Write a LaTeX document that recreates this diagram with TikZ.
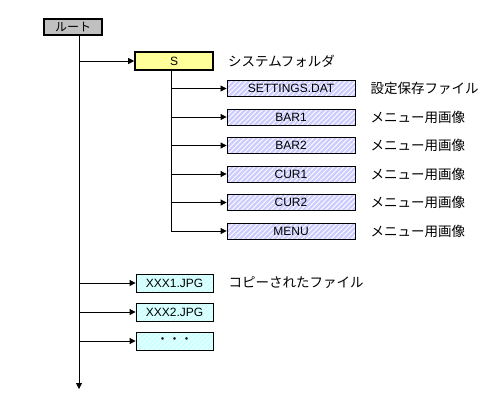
\documentclass[tikz,border=0pt]{standalone}
\usepackage{fontspec}
\setmainfont{Liberation Sans}
\newfontfamily\jpfont{Noto Sans CJK JP}
\usetikzlibrary{arrows.meta,patterns.meta,positioning}
\definecolor{rootgray}{RGB}{192,192,192}
\definecolor{sysyellow}{RGB}{255,255,153}
\definecolor{filelav}{RGB}{204,204,255}
\definecolor{copycyan}{RGB}{204,255,255}
\tikzset{>={Triangle[length=6pt,width=6pt]}}
\tikzset{
  rootbox/.style={draw, line width=1.6pt, fill=rootgray, minimum width=58pt,
    minimum height=16pt, inner sep=0pt, font=\jpfont\fontsize{12}{12}\selectfont},
  sysbox/.style={draw, line width=1.6pt, fill=sysyellow, minimum width=78pt,
    minimum height=18pt, inner sep=0pt, font=\fontsize{12}{12}\selectfont},
  filebox/.style={draw, line width=0.8pt, preaction={fill=filelav},
    pattern={Lines[angle=45,distance=3.5pt,line width=0.9pt]}, pattern color=white,
    minimum width=128pt, minimum height=16pt, inner sep=0pt,
    font=\fontsize{12}{12}\selectfont},
  copybox/.style={draw, line width=0.8pt, preaction={fill=copycyan},
    pattern={Lines[angle=45,distance=3.5pt,line width=0.9pt]}, pattern color=white!70!copycyan,
    minimum width=77pt, minimum height=18pt, inner sep=0pt,
    font=\fontsize{12}{12}\selectfont},
  note/.style={anchor=west, inner sep=0pt, font=\jpfont\fontsize{13.5}{13.5}\selectfont},
  link/.style={->, line width=0.8pt}
}
\begin{document}
\begin{tikzpicture}[x=1pt,y=-1pt]
  \useasboundingbox (0,0) rectangle (502,407);
  % root and the system folder
  \node[rootbox] (root) at (73,27) {ルート};
  \node[sysbox] (sys) at (174,61) {S};
  \node[note] (sysnote) at (228,61) {システムフォルダ};
  \coordinate (trunk) at (79,36);
  \coordinate (trunkend) at (79,389);
  \draw[link] (trunk) -- (trunkend);
  \draw[link] (trunk |- sys) -- (sys.west);
  % files in the system folder
  \coordinate (branch) at ([xshift=-3pt]sys.south);
  \foreach \name/\desc [count=\i] in {SETTINGS.DAT/設定保存ファイル,
      BAR1/メニュー用画像, BAR2/メニュー用画像, CUR1/メニュー用画像,
      CUR2/メニュー用画像, MENU/メニュー用画像}
  {
    \node[filebox] (file\i) at (291,60+28.5*\i) {\name};
    \node[note, right=15pt of file\i] (desc\i) {\desc};
    \draw[link] (branch |- file\i) -- (file\i.west);
  }
  \draw[line width=0.8pt] (branch) -- (branch |- file6);
  % copied files
  \foreach \name [count=\i] in {XXX1.JPG, XXX2.JPG, {\jpfont ・・・}}
  {
    \node[copybox] (copy\i) at (174.5,254+29*\i) {\name};
    \draw[link] (trunk |- copy\i) -- (copy\i.west);
  }
  \node[note, right=15pt of copy1] (copynote) {コピーされたファイル};
\end{tikzpicture}
\end{document}
